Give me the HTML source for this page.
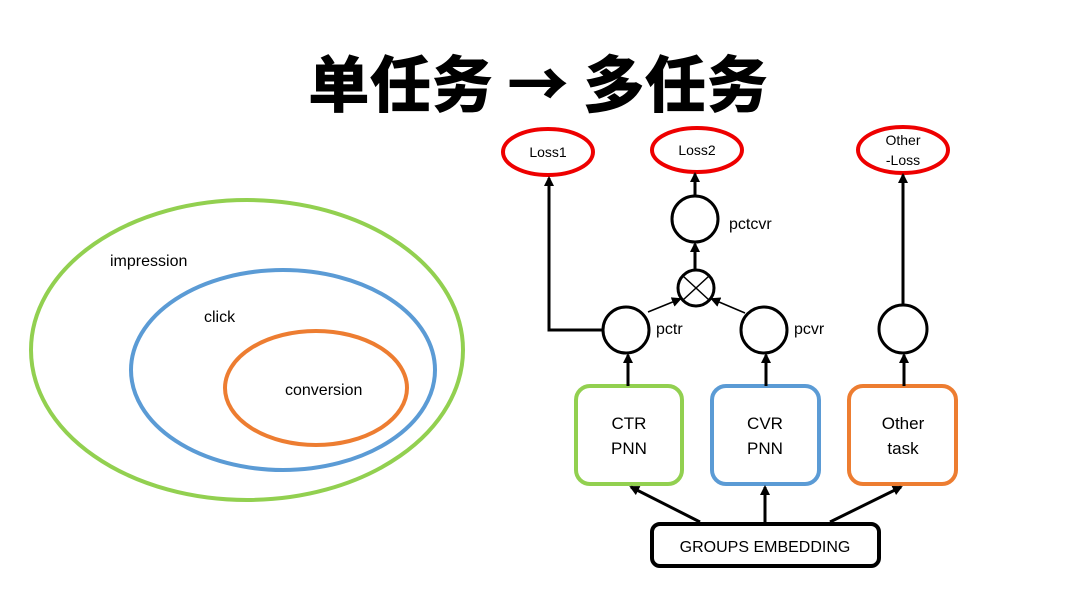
<!DOCTYPE html>
<html><head><meta charset="utf-8"><style>html,body{margin:0;padding:0;background:#fff}</style></head>
<body>
<svg width="1080" height="601" viewBox="0 0 1080 601" xmlns="http://www.w3.org/2000/svg" font-family="Liberation Sans, sans-serif">
<defs><marker id="a" markerWidth="10" markerHeight="10" refX="8" refY="5" orient="auto" markerUnits="userSpaceOnUse"><path d="M0,0 L10,5 L0,10 z" fill="#000"/></marker></defs>
<text x="538" y="107" text-anchor="middle" font-family="Noto Sans CJK SC, sans-serif" font-weight="900" font-size="62" textLength="460" lengthAdjust="spacingAndGlyphs">单任务 → 多任务</text>
<ellipse cx="247" cy="350" rx="216" ry="150" fill="none" stroke="#92d050" stroke-width="4"/>
<ellipse cx="283" cy="370" rx="152" ry="100" fill="none" stroke="#5b9bd5" stroke-width="4"/>
<ellipse cx="316" cy="388" rx="91" ry="57" fill="none" stroke="#ed7d31" stroke-width="4"/>
<g font-size="16" fill="#000">
<text x="110" y="266">impression</text><text x="204" y="322">click</text><text x="285" y="395">conversion</text>
</g>
<g fill="none" stroke="#e00" stroke-width="4">
<ellipse cx="548" cy="152" rx="45" ry="23"/><ellipse cx="697" cy="150" rx="45" ry="22"/><ellipse cx="903" cy="150" rx="45" ry="23"/>
</g>
<g font-size="14" text-anchor="middle"><text x="548" y="157">Loss1</text><text x="697" y="155">Loss2</text><text x="903" y="145">Other</text><text x="903" y="165">-Loss</text></g>
<g fill="none" stroke="#000" stroke-width="3">
<circle cx="695" cy="219" r="23"/><circle cx="696" cy="288" r="18"/>
<circle cx="626" cy="330" r="23"/><circle cx="764" cy="330" r="23"/><circle cx="903" cy="329" r="24"/>
<rect x="576" y="386" width="106" height="98" rx="14" stroke="#92d050" stroke-width="4"/>
<rect x="712" y="386" width="107" height="98" rx="14" stroke="#5b9bd5" stroke-width="4"/>
<rect x="849" y="386" width="107" height="98" rx="14" stroke="#ed7d31" stroke-width="4"/>
<rect x="652" y="524" width="227" height="42" rx="8" stroke-width="4"/>
</g>
<g stroke="#000" stroke-width="1.5"><line x1="683" y1="276" x2="709" y2="300"/><line x1="709" y1="276" x2="683" y2="300"/></g>
<g stroke="#000" stroke-width="3" fill="none" marker-end="url(#a)">
<polyline points="603,330 549,330 549,178"/>
<line x1="695" y1="196" x2="695" y2="174"/>
<line x1="695" y1="270" x2="695" y2="244"/>
<line x1="903" y1="305" x2="903" y2="175"/>
<line x1="628" y1="386" x2="628" y2="355"/>
<line x1="766" y1="386" x2="766" y2="355"/>
<line x1="904" y1="386" x2="904" y2="355"/>
<line x1="700" y1="522" x2="631" y2="487"/>
<line x1="765" y1="522" x2="765" y2="487"/>
<line x1="830" y1="522" x2="901" y2="487"/>
</g>
<g stroke="#000" stroke-width="1.5" marker-end="url(#a)">
<line x1="648" y1="312" x2="680" y2="299"/><line x1="745" y1="313" x2="712" y2="299"/>
</g>
<g font-size="16"><text x="729" y="229">pctcvr</text><text x="656" y="334">pctr</text><text x="794" y="334">pcvr</text></g>
<g font-size="17" text-anchor="middle">
<text x="629" y="429">CTR</text><text x="629" y="454">PNN</text>
<text x="765" y="429">CVR</text><text x="765" y="454">PNN</text>
<text x="903" y="429">Other</text><text x="903" y="454">task</text>
<text x="765" y="552" font-size="16">GROUPS EMBEDDING</text>
</g>
</svg>
</body></html>
